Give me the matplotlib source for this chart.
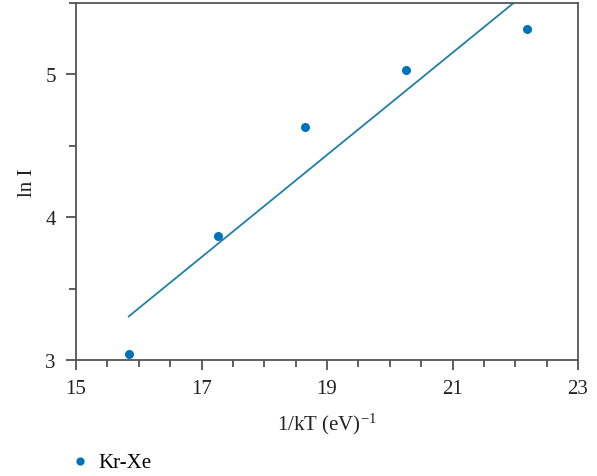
import numpy as np
import matplotlib
matplotlib.use("Agg")
import matplotlib.pyplot as plt
from matplotlib.ticker import MultipleLocator

plt.rcParams['font.family'] = ['Liberation Serif', 'DejaVu Serif']
plt.rcParams['mathtext.fontset'] = 'custom'
plt.rcParams['mathtext.rm'] = 'Liberation Serif'
plt.rcParams['mathtext.it'] = 'Liberation Serif:italic'
plt.rcParams['mathtext.default'] = 'rm'

# data
inv_kT = [15.84, 17.26, 18.65, 20.26, 22.18]
ln_I = [3.04, 3.87, 4.63, 5.03, 5.32]
series_name = "Kr-Xe"
x_ticks = [15, 17, 19, 21, 23]
y_ticks = [3, 4, 5]

# straight-line fit through the points
slope, icpt = np.polyfit(inv_kT, ln_I, 1)
xf = np.array([inv_kT[0], 23.0])
yf = slope * xf + icpt

fig = plt.figure(figsize=(5.97, 4.77), dpi=100)
ax = fig.add_axes([76 / 597, 1 - 361 / 477, 502 / 597, 357 / 477])

ax.plot(xf, yf, color='#1f7fa8', lw=1.3, zorder=2)
pts = ax.scatter(inv_kT, ln_I, s=30, color='#0072bd', zorder=3, label=series_name)

ax.set_xlim(15, 23)
ax.set_ylim(3, 5.5)
ax.set_xticks(x_ticks)
ax.set_yticks(y_ticks)
ax.xaxis.set_minor_locator(MultipleLocator(0.5))
ax.yaxis.set_minor_locator(MultipleLocator(0.5))

for s in ax.spines.values():
    s.set_color('#555555')
    s.set_linewidth(1.3)
ax.tick_params(which='both', direction='out', colors='#333333', labelcolor='#222222',
               labelsize=15, width=1.1)
ax.tick_params(which='major', length=7.5)
ax.tick_params(which='minor', length=5)
ax.tick_params(axis='x', which='major', pad=6.5)
ax.tick_params(axis='y', which='major', pad=7)

ax.set_xlabel(r'1/kT (eV)$^{-1}$', fontsize=15, color='#222222', labelpad=9)
ax.set_ylabel('ln I', fontsize=15, color='#222222', labelpad=6)

fig.legend(handles=[pts], labels=[series_name], loc='center left',
           bbox_to_anchor=(70 / 597, 1 - 463 / 477), frameon=False, fontsize=15,
           borderpad=0, borderaxespad=0, handlelength=1, handletextpad=0.35,
           markerscale=0.9)

fig.savefig('out.png', dpi=100)
